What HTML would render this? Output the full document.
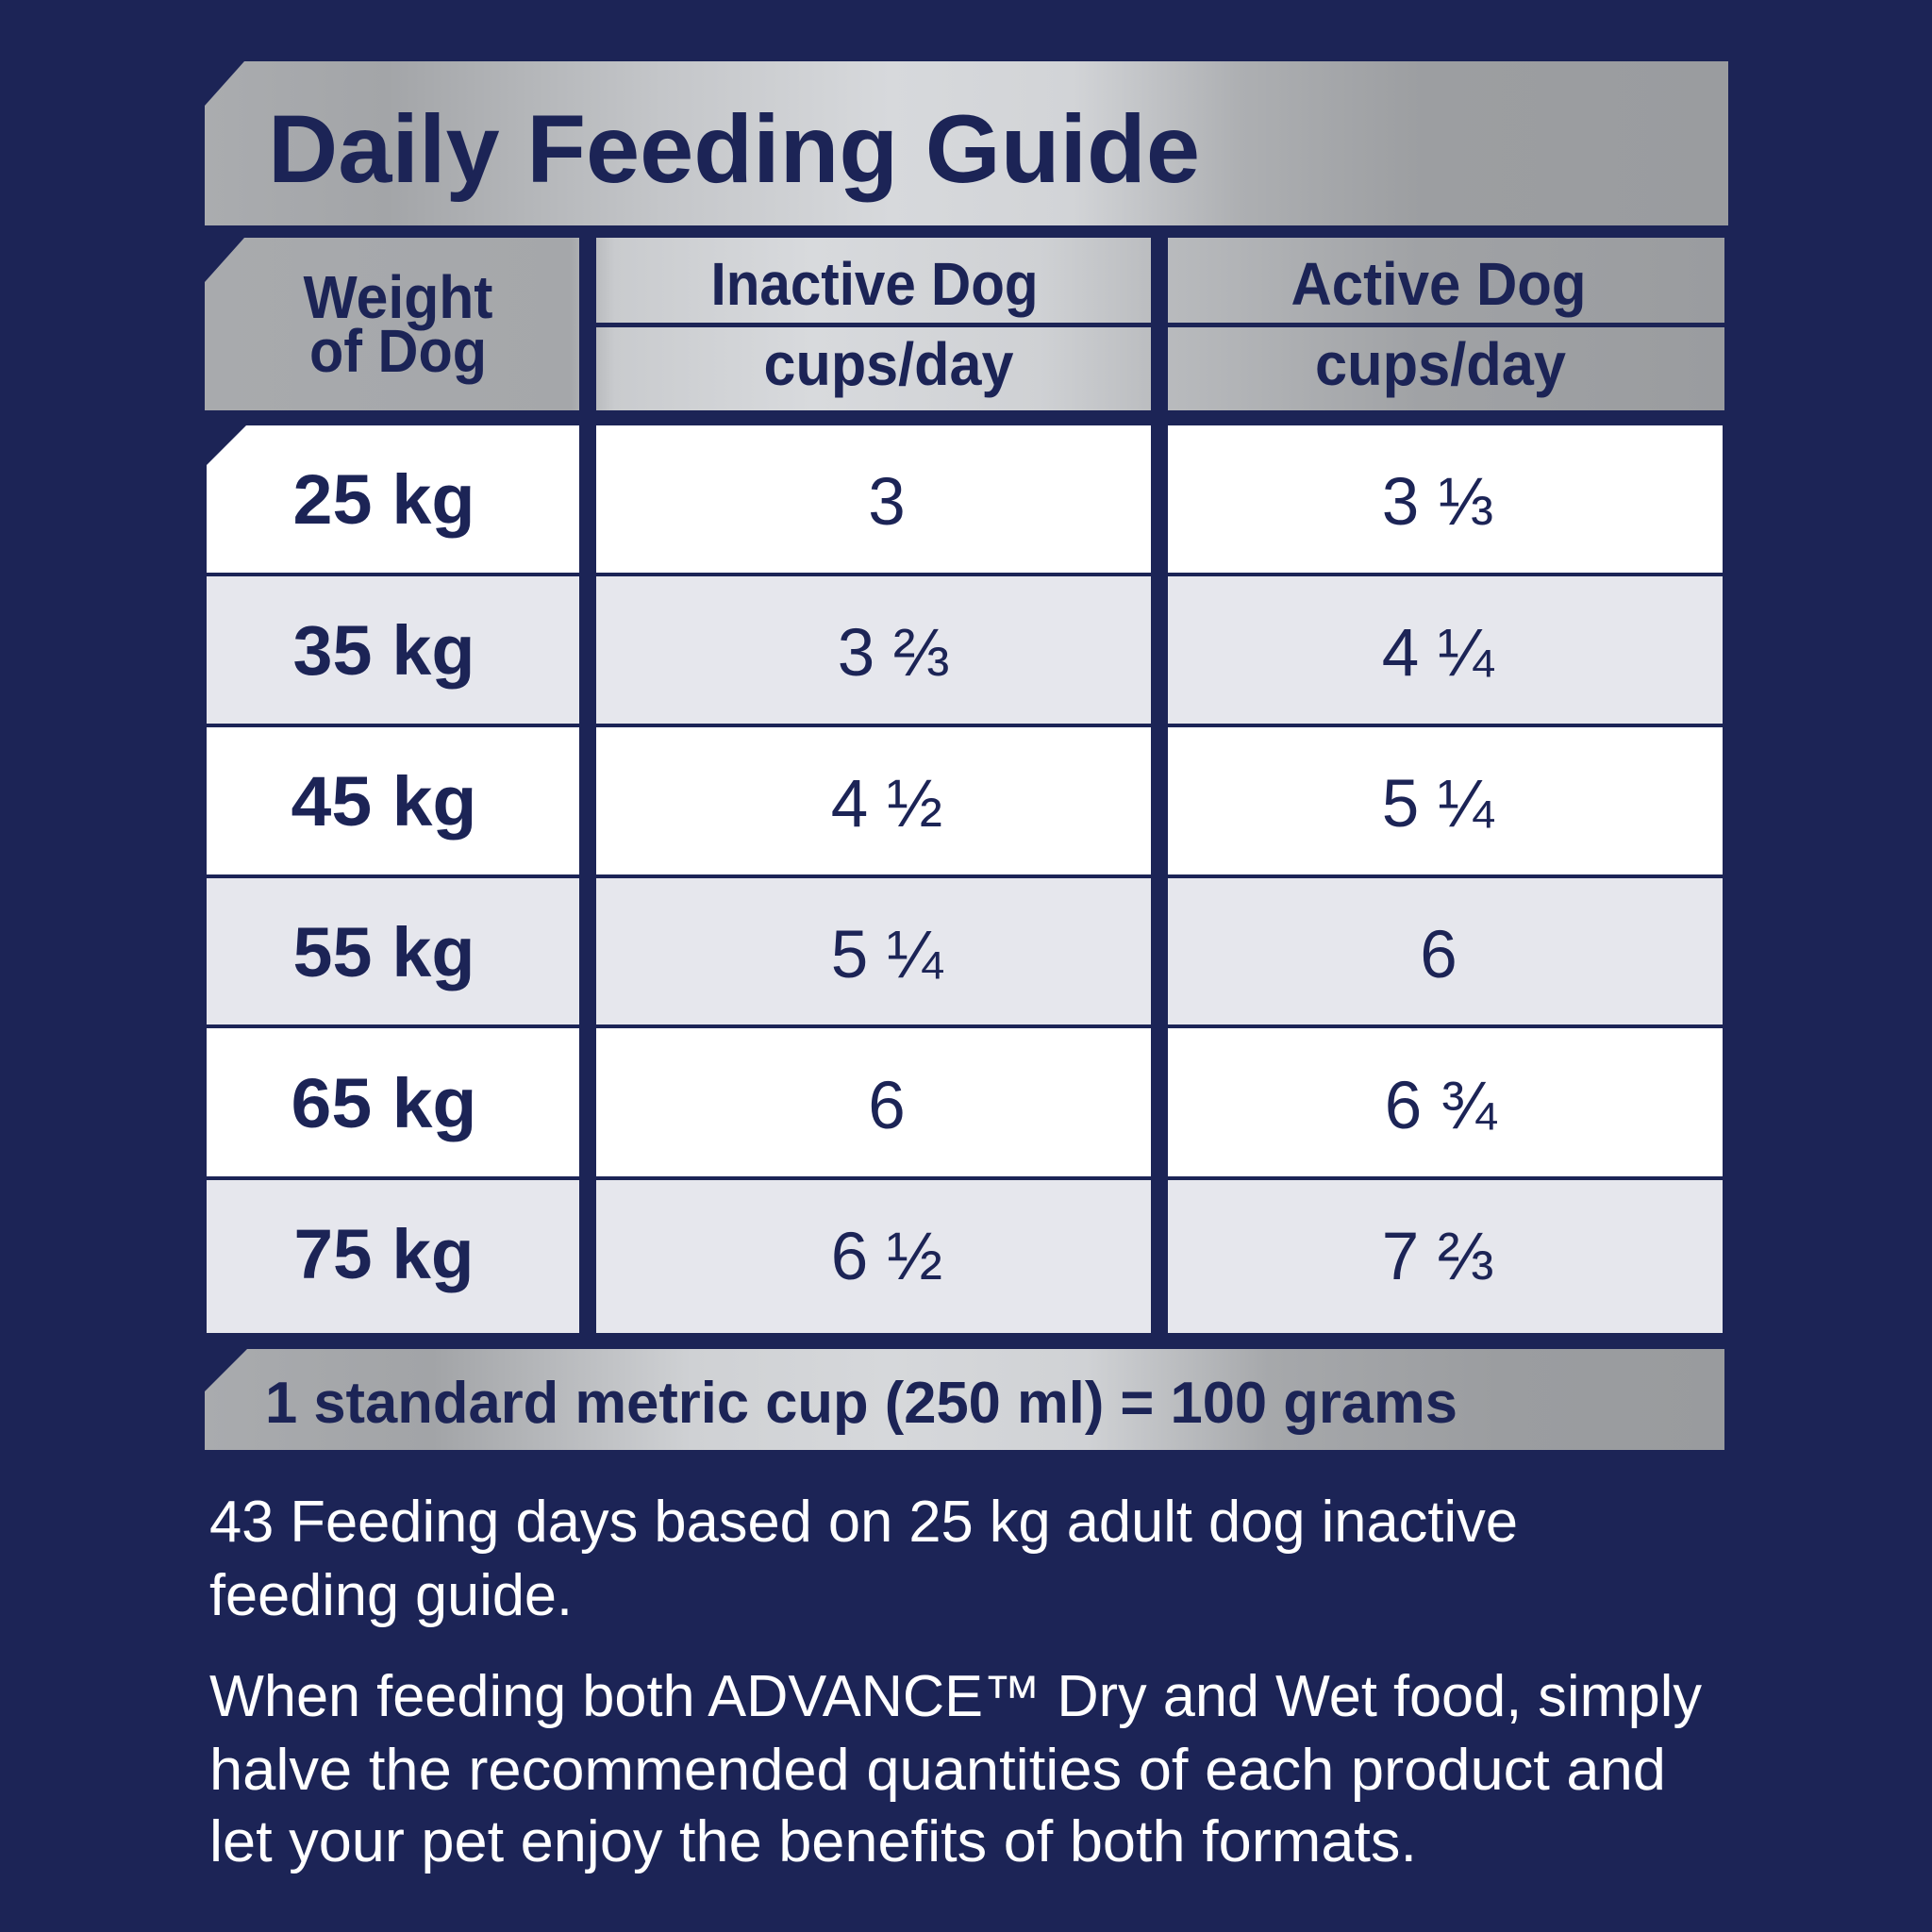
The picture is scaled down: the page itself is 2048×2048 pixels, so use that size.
<!DOCTYPE html>
<html>
<head>
<meta charset="utf-8">
<style>
html,body{margin:0;padding:0;background:#1c2456;}
svg{display:block;}
</style>
</head>
<body>
<svg width="2048" height="2048" viewBox="0 0 2048 2048" xmlns="http://www.w3.org/2000/svg">
<defs>
<linearGradient id="gH" gradientUnits="userSpaceOnUse" x1="217" y1="0" x2="1832" y2="0">
<stop offset="0" stop-color="#aaacaf"/>
<stop offset="0.12" stop-color="#a3a5a8"/>
<stop offset="0.3" stop-color="#c4c6c9"/>
<stop offset="0.45" stop-color="#d7d9dc"/>
<stop offset="0.57" stop-color="#d2d4d7"/>
<stop offset="0.68" stop-color="#adafb2"/>
<stop offset="0.8" stop-color="#9c9ea1"/>
<stop offset="1" stop-color="#9a9c9f"/>
</linearGradient>
<linearGradient id="gS" gradientUnits="userSpaceOnUse" x1="217" y1="0" x2="1828" y2="0">
<stop offset="0" stop-color="#a8aaad"/>
<stop offset="0.24" stop-color="#a5a7aa"/>
<stop offset="0.27" stop-color="#c9cbce"/>
<stop offset="0.4" stop-color="#d8dadd"/>
<stop offset="0.55" stop-color="#cfd1d4"/>
<stop offset="0.63" stop-color="#b9bbbe"/>
<stop offset="0.8" stop-color="#a0a2a5"/>
<stop offset="1" stop-color="#9a9c9f"/>
</linearGradient>
<linearGradient id="gF" gradientUnits="userSpaceOnUse" x1="217" y1="0" x2="1828" y2="0">
<stop offset="0" stop-color="#a9abae"/>
<stop offset="0.15" stop-color="#a2a4a7"/>
<stop offset="0.32" stop-color="#cfd1d4"/>
<stop offset="0.45" stop-color="#d6d8db"/>
<stop offset="0.58" stop-color="#d0d2d5"/>
<stop offset="0.7" stop-color="#a6a8ab"/>
<stop offset="0.85" stop-color="#9b9da0"/>
<stop offset="1" stop-color="#999b9e"/>
</linearGradient>
</defs>

<rect x="0" y="0" width="2048" height="2048" fill="#1c2456"/>

<!-- Title header -->
<polygon points="259,65 1832,65 1832,239 217,239 217,112" fill="url(#gH)"/>
<text x="284" y="193" font-family="Liberation Sans, sans-serif" font-weight="bold" font-size="102" fill="#1c2456" textLength="988" lengthAdjust="spacingAndGlyphs">Daily Feeding Guide</text>

<!-- Sub header row -->
<polygon points="259,252 614,252 614,435 217,435 217,299" fill="url(#gS)"/>
<rect x="632" y="252" width="588" height="90" fill="url(#gS)"/>
<rect x="632" y="347" width="588" height="88" fill="url(#gS)"/>
<rect x="1238" y="252" width="590" height="90" fill="url(#gS)"/>
<rect x="1238" y="347" width="590" height="88" fill="url(#gS)"/>

<g font-family="Liberation Sans, sans-serif" font-weight="bold" fill="#1c2456" text-anchor="middle">
<text x="422" y="337" font-size="64" textLength="201" lengthAdjust="spacingAndGlyphs">Weight</text>
<text x="422" y="394" font-size="64" textLength="188" lengthAdjust="spacingAndGlyphs">of Dog</text>
<text x="927" y="323" font-size="64" textLength="347" lengthAdjust="spacingAndGlyphs">Inactive Dog</text>
<text x="1525" y="323" font-size="64" textLength="313" lengthAdjust="spacingAndGlyphs">Active Dog</text>
<text x="942" y="408" font-size="64" textLength="265" lengthAdjust="spacingAndGlyphs">cups/day</text>
<text x="1527" y="408" font-size="64" textLength="266" lengthAdjust="spacingAndGlyphs">cups/day</text>
</g>

<!-- Data rows -->
<polygon points="261,451 614,451 614,607 219,607 219,493" fill="#ffffff"/>
<rect x="632" y="451" width="588" height="156" fill="#ffffff"/>
<rect x="1238" y="451" width="588" height="156" fill="#ffffff"/>

<rect x="219" y="611" width="395" height="156" fill="#e6e7ed"/>
<rect x="632" y="611" width="588" height="156" fill="#e6e7ed"/>
<rect x="1238" y="611" width="588" height="156" fill="#e6e7ed"/>

<rect x="219" y="771" width="395" height="156" fill="#ffffff"/>
<rect x="632" y="771" width="588" height="156" fill="#ffffff"/>
<rect x="1238" y="771" width="588" height="156" fill="#ffffff"/>

<rect x="219" y="931" width="395" height="155" fill="#e6e7ed"/>
<rect x="632" y="931" width="588" height="155" fill="#e6e7ed"/>
<rect x="1238" y="931" width="588" height="155" fill="#e6e7ed"/>

<rect x="219" y="1090" width="395" height="157" fill="#ffffff"/>
<rect x="632" y="1090" width="588" height="157" fill="#ffffff"/>
<rect x="1238" y="1090" width="588" height="157" fill="#ffffff"/>

<rect x="219" y="1251" width="395" height="162" fill="#e6e7ed"/>
<rect x="632" y="1251" width="588" height="162" fill="#e6e7ed"/>
<rect x="1238" y="1251" width="588" height="162" fill="#e6e7ed"/>

<g font-family="Liberation Sans, sans-serif" font-weight="bold" font-size="74" fill="#1c2456" text-anchor="middle">
<text x="407" y="555" textLength="193" lengthAdjust="spacingAndGlyphs">25 kg</text>
<text x="407" y="715" textLength="193" lengthAdjust="spacingAndGlyphs">35 kg</text>
<text x="407" y="875" textLength="197" lengthAdjust="spacingAndGlyphs">45 kg</text>
<text x="407" y="1035" textLength="193" lengthAdjust="spacingAndGlyphs">55 kg</text>
<text x="407" y="1195" textLength="197" lengthAdjust="spacingAndGlyphs">65 kg</text>
<text x="407" y="1355" textLength="191" lengthAdjust="spacingAndGlyphs">75 kg</text>
</g>

<g font-family="Liberation Sans, DejaVu Sans, sans-serif" font-size="71" fill="#1c2456" text-anchor="middle">
<text x="940" y="556">3</text>
<text x="947" y="716">3 ⅔</text>
<text x="940" y="876">4 ½</text>
<text x="940" y="1036">5 ¼</text>
<text x="940" y="1196">6</text>
<text x="940" y="1356">6 ½</text>

<text x="1524" y="556">3 ⅓</text>
<text x="1524" y="716">4 ¼</text>
<text x="1524" y="876">5 ¼</text>
<text x="1525" y="1036">6</text>
<text x="1527" y="1196">6 ¾</text>
<text x="1524" y="1356">7 ⅔</text>
</g>

<!-- Footer bar -->
<polygon points="262,1430 1828,1430 1828,1537 217,1537 217,1475" fill="url(#gF)"/>
<text x="281" y="1508" font-family="Liberation Sans, sans-serif" font-weight="bold" font-size="62" fill="#1c2456" textLength="1264" lengthAdjust="spacingAndGlyphs">1 standard metric cup (250 ml) = 100 grams</text>

<!-- Body text -->
<g font-family="Liberation Sans, sans-serif" font-size="62" fill="#ffffff">
<text x="222" y="1634" textLength="1387" lengthAdjust="spacingAndGlyphs">43 Feeding days based on 25 kg adult dog inactive</text>
<text x="222" y="1712" textLength="385" lengthAdjust="spacingAndGlyphs">feeding guide.</text>
<text x="222" y="1819" textLength="1582" lengthAdjust="spacingAndGlyphs">When feeding both ADVANCE™ Dry and Wet food, simply</text>
<text x="222" y="1897" textLength="1544" lengthAdjust="spacingAndGlyphs">halve the recommended quantities of each product and</text>
<text x="222" y="1973" textLength="1280" lengthAdjust="spacingAndGlyphs">let your pet enjoy the benefits of both formats.</text>
</g>
</svg>
</body>
</html>
